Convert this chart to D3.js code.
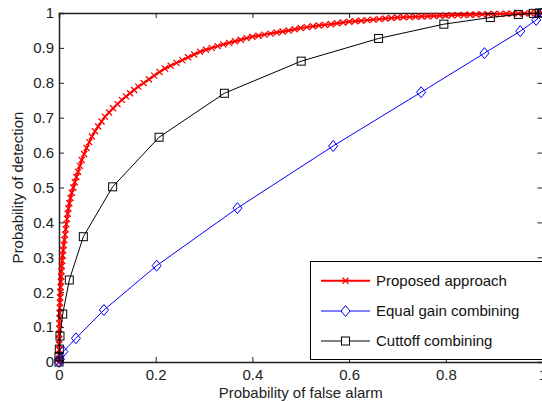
<!DOCTYPE html>
<html><head><meta charset="utf-8">
<script src="https://cdn.jsdelivr.net/npm/d3@7"></script>
<style>
html,body{margin:0;padding:0;background:#fff;overflow:hidden}
text{font-family:"Liberation Sans",Arial,sans-serif;}
</style></head>
<body><svg id="c" width="542" height="402"></svg>
<script>
// ---------- data ----------
const xTicks = [0, 0.2, 0.4, 0.6, 0.8, 1];
const xTickLabels = ["0", "0.2", "0.4", "0.6", "0.8", "1"];
const yTicks = [0, 0.1, 0.2, 0.3, 0.4, 0.5, 0.6, 0.7, 0.8, 0.9, 1];
const yTickLabels = ["0", "0.1", "0.2", "0.3", "0.4", "0.5", "0.6", "0.7", "0.8", "0.9", "1"];
const seriesNames = ["Proposed approach", "Equal gain combining", "Cuttoff combining"];

const proposedPfa = [0,0.00002,0.00005,0.0001,0.0002,0.0003,0.0004,0.0006,0.0008,0.001,0.0013,0.0016,0.002,0.0024,0.0028,0.0033,0.0039,0.0045,0.0051,0.0058,0.0066,0.0075,0.0086,0.0098,0.0111,0.0125,0.0138,0.0152,0.0166,0.018,0.0195,0.0215,0.0238,0.0265,0.0295,0.0327,0.036,0.0395,0.0432,0.047,0.052,0.057,0.0625,0.068,0.0745,0.081,0.088,0.095,0.1035,0.112,0.121,0.130,0.1385,0.147,0.1555,0.164,0.175,0.186,0.197,0.208,0.219,0.231,0.243,0.255,0.267,0.2795,0.292,0.304,0.316,0.328,0.34,0.352,0.364,0.376,0.388,0.4,0.4125,0.425,0.4375,0.45,0.4625,0.475,0.4875,0.5,0.5125,0.525,0.5375,0.55,0.5625,0.575,0.5875,0.6,0.6125,0.625,0.6375,0.65,0.6625,0.675,0.6875,0.7,0.7125,0.725,0.7375,0.75,0.7625,0.775,0.7875,0.8,0.8125,0.825,0.8375,0.85,0.8625,0.875,0.8875,0.9,0.9125,0.925,0.9375,0.95,0.9625,0.975,0.9875,1];
const proposedPd = [0,0.01,0.02,0.035,0.05,0.065,0.08,0.095,0.11,0.125,0.14,0.155,0.17,0.185,0.2,0.215,0.23,0.245,0.26,0.275,0.29,0.305,0.32,0.335,0.35,0.365,0.38,0.395,0.41,0.425,0.44,0.455,0.47,0.485,0.5,0.515,0.53,0.545,0.562,0.579,0.596,0.613,0.63,0.646,0.661,0.675,0.689,0.703,0.715,0.727,0.739,0.751,0.761,0.770,0.7795,0.789,0.7995,0.81,0.8205,0.831,0.841,0.849,0.857,0.865,0.873,0.881,0.889,0.8945,0.900,0.905,0.910,0.9145,0.919,0.9235,0.928,0.932,0.935,0.938,0.941,0.944,0.947,0.950,0.9535,0.957,0.9595,0.962,0.964,0.966,0.968,0.9705,0.973,0.975,0.9765,0.978,0.9795,0.981,0.9825,0.984,0.9855,0.987,0.9878,0.9885,0.9893,0.99,0.9908,0.9915,0.9923,0.993,0.9935,0.994,0.9945,0.995,0.9955,0.996,0.9965,0.997,0.9974,0.9978,0.9981,0.9985,0.9989,0.9993,0.9996,1];

const egcPfa = [0, 0.002, 0.009, 0.035, 0.093, 0.202, 0.369, 0.567, 0.749, 0.880, 0.954, 0.987, 1];
const egcPd  = [0, 0.008, 0.030, 0.068, 0.149, 0.276, 0.441, 0.619, 0.773, 0.885, 0.948, 0.980, 1];

const cutPfa = [0, 0, 0.0006, 0.002, 0.0077, 0.0213, 0.0503, 0.111, 0.207, 0.342, 0.501, 0.661, 0.796, 0.892, 0.950, 0.981, 0.994, 1];
const cutPd  = [0, 0.015, 0.037, 0.0745, 0.1375, 0.235, 0.359, 0.502, 0.644, 0.770, 0.862, 0.927, 0.968, 0.987, 0.996, 0.999, 1.0, 1];

// ---------- drawing ----------
const svg = d3.select("#c");
const FS = 15;
const x = d3.scaleLinear().domain([0, 1]).range([59, 542.5]);
const y = d3.scaleLinear().domain([0, 1]).range([362, 13]);

const zip = (a, b) => a.map((v, i) => [v, b[i]]);
const line = d3.line().x(d => x(d[0])).y(d => y(d[1]));

// axes
const axB = svg.append("g").attr("transform", `translate(0,${y(0)})`)
  .call(d3.axisBottom(x).tickValues(xTicks).tickFormat((d, i) => xTickLabels[i]).tickSize(-5).tickPadding(7));
const axT = svg.append("g").attr("transform", `translate(0,${y(1)})`)
  .call(d3.axisTop(x).tickValues(xTicks).tickFormat("").tickSize(-5));
const axL = svg.append("g").attr("transform", `translate(${x(0)},0)`)
  .call(d3.axisLeft(y).tickValues(yTicks).tickFormat((d, i) => yTickLabels[i]).tickSize(-5).tickPadding(5));
const axR = svg.append("g").attr("transform", `translate(${x(1)},0)`)
  .call(d3.axisRight(y).tickValues(yTicks).tickFormat("").tickSize(-5));
[axB, axT, axL, axR].forEach(g => {
  g.select(".domain").attr("stroke", "#222").attr("stroke-width", 1.5);
  g.selectAll(".tick line").attr("stroke", "#222").attr("stroke-width", 1);
  g.selectAll("text").attr("font-size", FS).attr("fill", "#222")
    .attr("font-family", '"Liberation Sans", Arial, sans-serif');
});

// series
const red = "#ff0000", blue = "#0000ff", black = "#000000";
function xMark(g, d, col, s) {
  g.append("path").attr("d", `M${-s},${-s}L${s},${s}M${-s},${s}L${s},${-s}`)
    .attr("transform", `translate(${x(d[0])},${y(d[1])})`)
    .attr("stroke", col).attr("stroke-width", 1.3).attr("fill", "none");
}
function diamond(g, d, col) {
  g.append("path").attr("d", "M0,-5.5L4.5,0L0,5.5L-4.5,0Z")
    .attr("transform", `translate(${x(d[0])},${y(d[1])})`)
    .attr("stroke", col).attr("stroke-width", 1).attr("fill", "none");
}
function square(g, d, col) {
  g.append("rect").attr("x", x(d[0]) - 4).attr("y", y(d[1]) - 4)
    .attr("width", 8).attr("height", 8)
    .attr("stroke", col).attr("stroke-width", 1).attr("fill", "none");
}

const pData = zip(proposedPfa, proposedPd);
const eData = zip(egcPfa, egcPd);
const cData = zip(cutPfa, cutPd);

const gP = svg.append("g");
gP.append("path").datum(pData).attr("d", line).attr("fill", "none").attr("stroke", red).attr("stroke-width", 2);
pData.forEach(d => xMark(gP, d, red, 3));

const gE = svg.append("g");
gE.append("path").datum(eData).attr("d", line).attr("fill", "none").attr("stroke", blue).attr("stroke-width", 1);
eData.forEach(d => diamond(gE, d, blue));

const gC = svg.append("g");
gC.append("path").datum(cData).attr("d", line).attr("fill", "none").attr("stroke", black).attr("stroke-width", 1);
cData.forEach(d => square(gC, d, black));

// axis labels
svg.append("text").attr("x", (x(0) + x(1)) / 2).attr("y", 398).attr("text-anchor", "middle")
  .attr("font-size", FS).attr("fill", "#222").text("Probability of false alarm");
svg.append("text").attr("transform", `translate(23,${(y(0) + y(1)) / 2}) rotate(-90)`)
  .attr("text-anchor", "middle").attr("font-size", FS).attr("fill", "#222").text("Probability of detection");

// legend
const lg = svg.append("g");
lg.append("rect").attr("x", 310.5).attr("y", 261.5).attr("width", 260).attr("height", 98)
  .attr("fill", "#fff").attr("stroke", "#000").attr("stroke-width", 1);
const legCols = [red, blue, black];
const legY = [280.7, 311, 341];
seriesNames.forEach((name, i) => {
  const yy = legY[i];
  lg.append("line").attr("x1", 321).attr("x2", 370).attr("y1", yy).attr("y2", yy)
    .attr("stroke", legCols[i]).attr("stroke-width", i === 0 ? 2 : 1);
  const cx = 345.5;
  if (i === 0) lg.append("path").attr("d", `M${cx-3},${yy-3}L${cx+3},${yy+3}M${cx-3},${yy+3}L${cx+3},${yy-3}`).attr("stroke", red).attr("stroke-width", 1.3);
  if (i === 1) lg.append("path").attr("d", `M${cx},${yy-5.5}L${cx+4.5},${yy}L${cx},${yy+5.5}L${cx-4.5},${yy}Z`).attr("stroke", blue).attr("fill", "#fff");
  if (i === 2) lg.append("rect").attr("x", cx - 4).attr("y", yy - 4).attr("width", 8).attr("height", 8).attr("stroke", black).attr("fill", "#fff");
  lg.append("text").attr("x", 376).attr("y", yy).attr("dy", "0.35em").attr("font-size", FS).attr("fill", "#111").text(name);
});
</script></body></html>
